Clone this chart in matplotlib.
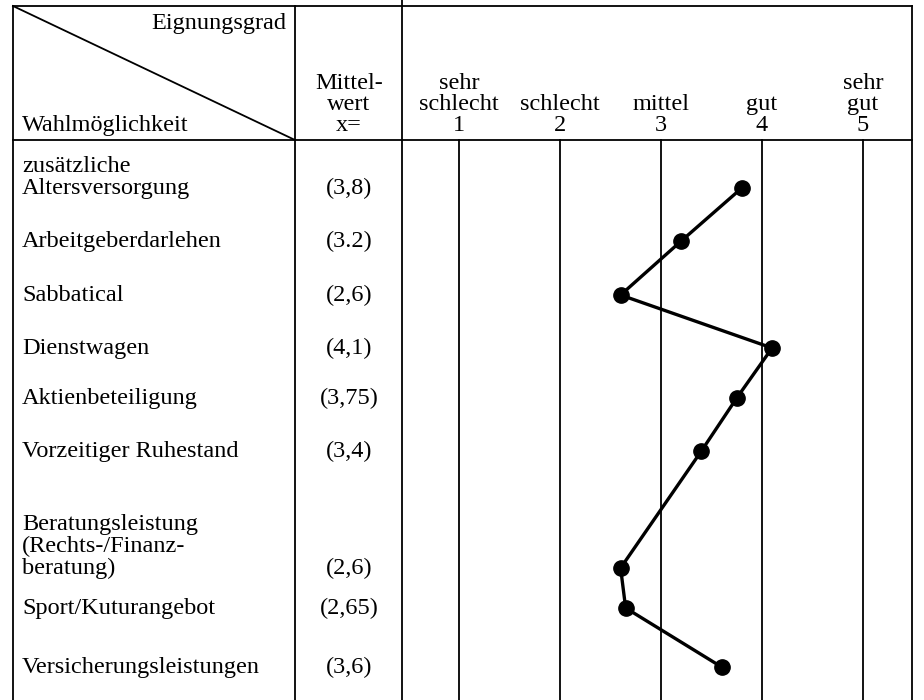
import matplotlib
matplotlib.use("Agg")
import matplotlib.pyplot as plt

# ---- data ----
options = ["zusätzliche\nAltersversorgung", "Arbeitgeberdarlehen", "Sabbatical",
           "Dienstwagen", "Aktienbeteiligung", "Vorzeitiger Ruhestand",
           "Beratungsleistung\n(Rechts-/Finanz-\nberatung)", "Sport/Kuturangebot",
           "Versicherungsleistungen"]
mean_labels = ["(3,8)", "(3.2)", "(2,6)", "(4,1)", "(3,75)", "(3,4)", "(2,6)", "(2,65)", "(3,6)"]
mean_values = [3.8, 3.2, 2.6, 4.1, 3.75, 3.4, 2.6, 2.65, 3.6]
scale_ticks = [1, 2, 3, 4, 5]
scale_names = [["sehr", "schlecht"], ["schlecht"], ["mittel"], ["gut"], ["sehr", "gut"]]

# ---- layout (pixels) ----
W, H = 924, 700
row_y = [188, 241, 295, 348, 398, 451, 568, 608, 667]
line_gap = [22, 20, 20, 20, 20, 20, 22, 20, 20]
x_left, x_c1, x_c2, x_right = 13, 295, 402, 912
y_top, y_head = 6, 140
x_one, px_per_unit = 459, 101

FONT = "Liberation Serif"
FS = 17.5

fig = plt.figure(figsize=(W / 100, H / 100), dpi=100)
ax = fig.add_axes([0, 0, 1, 1])
ax.set_xlim(0, W)
ax.set_ylim(H, 0)
ax.axis("off")

lw = 1.3
# table frame
ax.plot([x_left, x_right], [y_top, y_top], color="black", lw=lw)
ax.plot([x_left, x_right], [y_head, y_head], color="black", lw=lw)
ax.plot([x_left, x_left], [y_top, H], color="black", lw=lw)
ax.plot([x_c1, x_c1], [y_top, H], color="black", lw=lw)
ax.plot([x_c2, x_c2], [0, H], color="black", lw=lw)
ax.plot([x_right, x_right], [y_top, H], color="black", lw=lw)
# diagonal
ax.plot([x_left, x_c1], [y_top, y_head], color="black", lw=lw)

# header texts (baselines)
ax.text(286, 29, "Eignungsgrad", ha="right", va="baseline", fontsize=FS, family=FONT)
ax.text(22, 131, "Wahlmöglichkeit", ha="left", va="baseline", fontsize=FS, family=FONT)
hdr_rows = [89, 110, 131]
for t, yy in zip(["Mittel-", "wert", "x="], hdr_rows):
    ax.text(349, yy, t, ha="center", va="baseline", fontsize=FS, family=FONT)

# scale axes
ax2 = fig.add_axes([0, 0, 1, 1])
ax2.set_xlim(1 - x_one / px_per_unit, 1 + (W - x_one) / px_per_unit)
ax2.set_ylim(H, 0)
ax2.axis("off")
ax2.patch.set_alpha(0)

for v, names in zip(scale_ticks, scale_names):
    ax2.plot([v, v], [y_head, H], color="black", lw=lw)
    lines = names + [str(v)]
    ys = hdr_rows[-len(lines):]
    for t, yy in zip(lines, ys):
        ax2.text(v, yy, t, ha="center", va="baseline", fontsize=FS, family=FONT)

# row labels
for name, lab, yy, gap in zip(options, mean_labels, row_y, line_gap):
    parts = name.split("\n")
    n = len(parts)
    for k, part in enumerate(parts):
        ax.text(22, yy + 6 - (n - 1 - k) * gap, part, ha="left", va="baseline",
                fontsize=FS, family=FONT)
    ax.text(349, yy + 6, lab, ha="center", va="baseline", fontsize=FS, family=FONT)

# profile line
ax2.plot(mean_values, row_y, color="black", lw=2.4, marker="o",
         markersize=11, markerfacecolor="black", markeredgecolor="black",
         solid_joinstyle="round")

fig.savefig("out.png", dpi=100)
